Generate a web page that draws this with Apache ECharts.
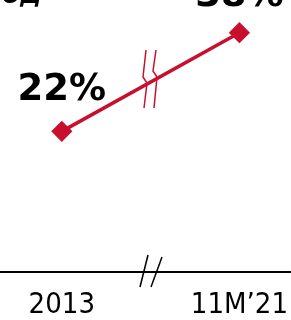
<!DOCTYPE html>
<html lang="ru">
<head>
    <meta charset="UTF-8">
    <title>2013 - 11M'21</title>
    <script src="https://cdn.jsdelivr.net/npm/echarts@6/dist/echarts.min.js"></script>
    <style>
        html, body {margin: 0; padding: 0; background: #fff;}
        #main {width: 291px; height: 320px;}
    </style>
</head>
<body>
<div id="main"></div>
<script>
    // данные
    var periods = ['2013', '11M\u201921'];
    var shares = [22, 38];
    var pos = [0, 1];
    var labelGap = [12, 7];

    var red = '#C8102E';
    var myChart = echarts.init(document.getElementById('main'));

    var option = {
        animation: false,
        grid: {left: 0, right: 0, top: 0, bottom: 47},
        xAxis: {
            type: 'value',
            min: -0.348,
            max: 1.287,
            splitLine: {show: false},
            axisTick: {show: false},
            axisLine: {onZero: false, lineStyle: {color: '#000', width: 2}},
            axisLabel: {
                customValues: pos,
                margin: 19,
                color: '#000',
                fontSize: 29,
                fontFamily: 'DejaVu Sans Condensed, DejaVu Sans',
                formatter: function (v) {
                    return periods[Math.round(v)];
                }
            }
        },
        yAxis: {
            type: 'value',
            show: false,
            min: -0.8,
            max: 43.3
        },
        series: [{
            type: 'line',
            clip: false,
            data: pos.map(function (p, i) {
                return {value: [p, shares[i]], label: {distance: labelGap[i]}};
            }),
            symbol: 'rect',
            symbolSize: 15,
            symbolRotate: 45,
            lineStyle: {color: red, width: 3.5},
            itemStyle: {color: red},
            label: {
                show: true,
                position: 'top',
                color: '#000',
                fontSize: 37,
                fontWeight: 'bold',
                fontFamily: 'DejaVu Sans',
                formatter: function (p) { return p.value[1] + '%'; }
            }
        }],
        graphic: [
            // надпись сверху (обрезана)
            {type: 'text', x: 41, y: 9, style: {text: 'год', fill: '#000',
                font: 'italic bold 26px DejaVu Sans', align: 'right', verticalAlign: 'bottom'}},
            // разрыв на линии
            {type: 'polyline', shape: {points: [[146, 50], [143, 77], [147, 83], [144, 108]]},
                style: {stroke: '#fff', lineWidth: 6, fill: null}},
            {type: 'polyline', shape: {points: [[156, 50], [153, 71], [157, 77], [154, 108]]},
                style: {stroke: '#fff', lineWidth: 6, fill: null}},
            {type: 'polyline', shape: {points: [[146, 50], [143, 77], [147, 83], [144, 108]]},
                style: {stroke: red, lineWidth: 1.5, fill: null}},
            {type: 'polyline', shape: {points: [[156, 50], [153, 71], [157, 77], [154, 108]]},
                style: {stroke: red, lineWidth: 1.5, fill: null}},
            // разрыв на оси
            {type: 'rect', shape: {x: 143, y: 270, width: 14, height: 6}, style: {fill: '#fff'}},
            {type: 'line', shape: {x1: 140, y1: 287, x2: 148, y2: 255}, style: {stroke: '#000', lineWidth: 1.5}},
            {type: 'line', shape: {x1: 151, y1: 287, x2: 162, y2: 257}, style: {stroke: '#000', lineWidth: 1.5}}
        ]
    };

    myChart.setOption(option);
</script>
</body>
</html>
